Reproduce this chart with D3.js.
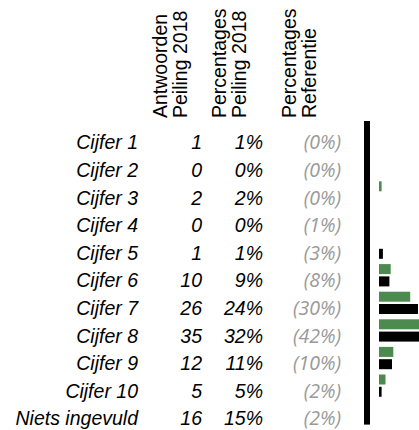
<!DOCTYPE html>
<html>
<head>
<meta charset="utf-8">
<script src="https://cdn.jsdelivr.net/npm/d3@7"></script>
<style>
  body { margin: 0; background: #fff; }
  svg { display: block; }
</style>
</head>
<body>
<svg id="chart" width="419" height="430"></svg>
<script>
// Survey answers per grade, with the reference distribution
const categories = ["Cijfer 1", "Cijfer 2", "Cijfer 3", "Cijfer 4", "Cijfer 5", "Cijfer 6",
                    "Cijfer 7", "Cijfer 8", "Cijfer 9", "Cijfer 10", "Niets ingevuld"];
const answers2018 = [1, 0, 2, 0, 1, 10, 26, 35, 12, 5, 16];
const percent2018 = [1, 0, 2, 0, 1, 9, 24, 32, 11, 5, 15];
const percentRef  = [0, 0, 0, 1, 3, 8, 30, 42, 10, 2, 2];
const headers = [
  ["Antwoorden", "Peiling 2018"],
  ["Percentages", "Peiling 2018"],
  ["Percentages", "Referentie"]
];
// grades below this percentage get no bar
const minShown = 2;

const svg = d3.select("#chart");
const font = "'Liberation Sans', Arial, sans-serif";
const fs = 19.5;

const y = d3.scaleBand().domain(categories).range([123.5, 427.1]);
const center = d => y(d) + y.bandwidth() / 2;
const x = d3.scaleLinear().domain([0, 10]).range([379, 392]);

// column headers (rotated)
const headerX = [167, 226, 296];
headers.forEach((lines, i) => {
  const t = svg.append("text")
    .attr("transform", `translate(${headerX[i]},118) rotate(-90)`)
    .attr("font-family", font)
    .attr("font-size", fs)
    .attr("fill", "#000");
  lines.forEach((l, j) => t.append("tspan").attr("x", 0).attr("dy", j === 0 ? 0 : 19.5).text(l));
});

const rows = categories.map((c, i) => ({
  cat: c, n: answers2018[i], p: percent2018[i], r: percentRef[i]
}));

const textRow = (xPos, fmt, color, family) =>
  svg.append("g").selectAll("text").data(rows).join("text")
    .attr("x", xPos)
    .attr("y", d => center(d.cat) + 12)
    .attr("text-anchor", "end")
    .attr("font-family", family || font)
    .attr("font-style", "italic")
    .attr("font-size", fs)
    .attr("fill", color)
    .text(fmt);

textRow(138, d => d.cat, "#000");
textRow(202, d => d.n, "#000");
textRow(263, d => d.p + "%", "#000");
textRow(341, d => "(" + d.r + "%)", "#999", "'Open Sans', sans-serif");

// vertical axis line
svg.append("rect")
  .attr("x", 364).attr("width", 6)
  .attr("y", y.range()[0] - 2.5)
  .attr("height", y.range()[1] - y.range()[0]);

// bars for the grades only
const grades = rows.filter(d => d.cat.startsWith("Cijfer"));
svg.append("g").selectAll("rect").data(grades.filter(d => d.p >= minShown)).join("rect")
  .attr("x", x(0))
  .attr("y", d => center(d.cat) - 11.2)
  .attr("width", d => x(d.p) - x(0))
  .attr("height", 10)
  .attr("fill", "#4d8a4f");
svg.append("g").selectAll("rect").data(grades.filter(d => d.r >= minShown)).join("rect")
  .attr("x", x(0))
  .attr("y", d => center(d.cat) + 1.1)
  .attr("width", d => x(d.r) - x(0))
  .attr("height", 10)
  .attr("fill", "#000");
</script>
</body>
</html>
